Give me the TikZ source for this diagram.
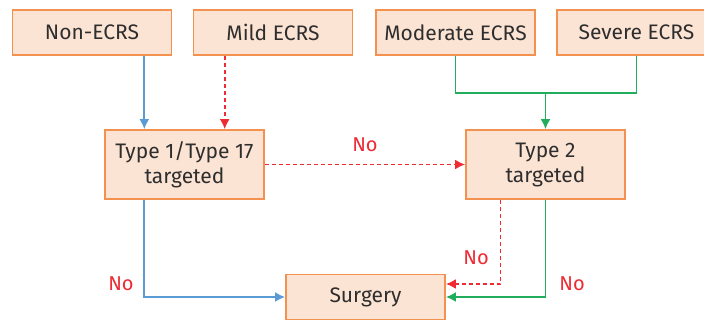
\documentclass[tikz,border=0pt]{standalone}
\usepackage{fontspec}
\setmainfont{Fira Sans}
\usetikzlibrary{arrows.meta, calc}

\definecolor{boxfill}{HTML}{FCE4D4}
\definecolor{boxline}{HTML}{F39150}
\definecolor{txtgray}{HTML}{2E2E2E}
\definecolor{noblue}{HTML}{5B9BD5}
\definecolor{nored}{HTML}{EE2A33}
\definecolor{nogreen}{HTML}{22AD5C}

\begin{document}
\begin{tikzpicture}[x=0.5pt, y=-0.5pt,
  stage/.style = {draw=boxline, line width=0.9pt, fill=boxfill, text=txtgray,
                  font=\fontsize{10.5}{12.5}\selectfont, minimum width=79.5pt,
                  minimum height=22.5pt, inner sep=2pt, align=center},
  drug/.style = {stage, minimum height=34.5pt},
  nolabel/.style = {text=nored, font=\fontsize{10}{12}\selectfont, inner sep=0pt},
  blueline/.style = {draw=noblue, line width=0.9pt, -{Latex[length=5pt, width=5pt]}},
  redline/.style = {draw=nored, line width=0.9pt, dash pattern=on 2pt off 1.5pt,
                    -{Latex[length=5pt, width=5pt]}},
  greenline/.style = {draw=nogreen, line width=0.9pt},
  greenarrow/.style = {greenline, -{Latex[length=5pt, width=5pt]}}]
\useasboundingbox (0,0) rectangle (704,321);

% top row
\node[stage] (non) at (92,32.5) {Non-ECRS};
\node[stage] (mild) at (273,32.5) {Mild ECRS};
\node[stage] (mod) at (455.5,32.5) {Moderate ECRS};
\node[stage] (sev) at (636.5,32.5) {Severe ECRS};

% treatment row
\node[drug] (t1) at (184.5,164.5) {Type 1/Type 17\\targeted};
\node[drug] (t2) at (545.5,164.5) {Type 2\\targeted};
\node[stage] (surg) at (365.5,297) {Surgery};

\coordinate (t1a) at ($(t1.north west)!0.25!(t1.north east)$);
\coordinate (t1b) at ($(t1.north west)!0.75!(t1.north east)$);
\coordinate (join) at (545.5,93);
\coordinate (t2a) at ($(t2.south west)!0.22!(t2.south east)$);
\coordinate (s1) at ($(surg.east)+(0,6.5pt)$);

\draw[blueline] (non.south -| t1a) -- (t1a);
\draw[redline] (mild.south -| t1b) -- (t1b);
\draw[greenline] (mod.south) |- (join) -| (sev.south);
\draw[greenarrow] (join) -- (t2.north);

\draw[redline] (t1.east) -- (t2.west);
\draw[blueline] (t1.south -| t1a) |- (surg.west);
\draw[redline] (t2a) |- (s1);
\draw[greenarrow] (t2.south) |- (surg.east);

% labels
\node[nolabel] (no1) at (365,145) {No};
\node[nolabel] (no2) at (121,284) {No};
\node[nolabel] (no3) at (476,258) {No};
\node[nolabel] (no4) at (572,284) {No};
\end{tikzpicture}
\end{document}
